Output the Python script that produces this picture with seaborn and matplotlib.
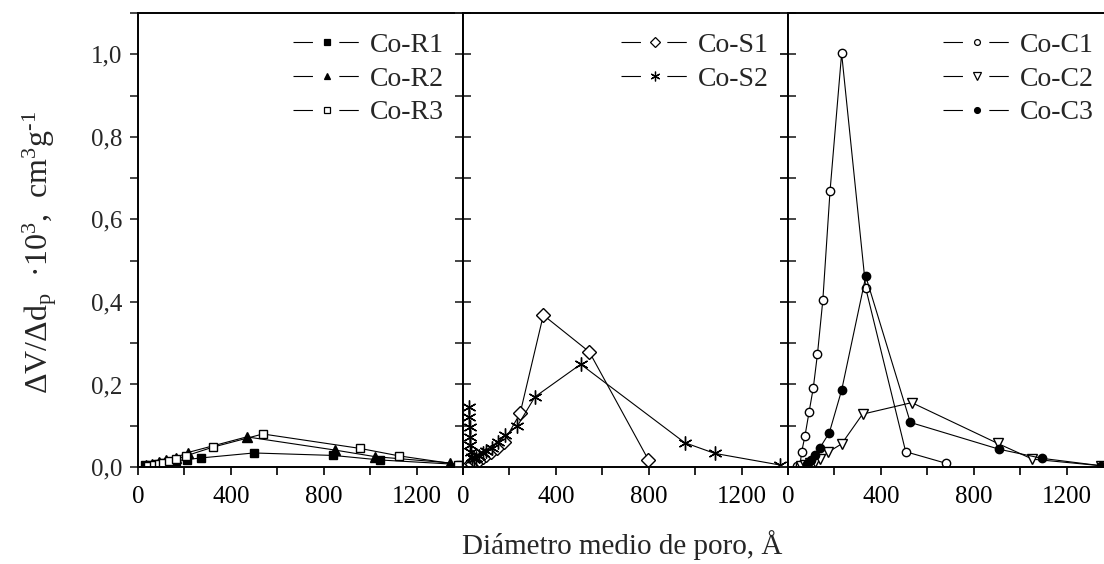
import matplotlib
matplotlib.use("Agg")
import matplotlib.pyplot as plt
from matplotlib.lines import Line2D
from matplotlib.ticker import MultipleLocator, FuncFormatter
import seaborn as sns

# Pore size distributions (x: mean pore diameter in Å, y: dV/dDp * 10^3 in cm3/g)
r1_x = [30, 55, 80, 105, 130, 165, 210, 272, 499, 842, 1043, 1385]
r1_y = [0.004, 0.006, 0.008, 0.010, 0.012, 0.015, 0.018, 0.022, 0.034, 0.028, 0.017, 0.006]
r2_x = [35, 60, 90, 120, 164, 214, 469, 849, 1022, 1342]
r2_y = [0.004, 0.007, 0.011, 0.016, 0.023, 0.035, 0.073, 0.041, 0.025, 0.010]
r3_x = [45, 70, 90, 107, 132, 164, 207, 322, 538, 957, 1124, 1380]
r3_y = [0.003, 0.005, 0.008, 0.010, 0.014, 0.019, 0.027, 0.048, 0.080, 0.045, 0.027, 0.006]

s1_x = [25, 40, 55, 70, 85, 100, 120, 145, 175, 246, 346, 544, 799]
s1_y = [0.004, 0.008, 0.012, 0.018, 0.024, 0.030, 0.037, 0.047, 0.060, 0.130, 0.368, 0.279, 0.017]
s2_x = [25, 27, 28, 30, 32, 35, 40, 48, 58, 70, 85, 100, 124, 150, 183, 234, 310, 507, 955, 1084, 1364]
s2_y = [0.146, 0.122, 0.097, 0.073, 0.053, 0.036, 0.025, 0.020, 0.022, 0.027, 0.033, 0.039, 0.047,
        0.060, 0.077, 0.099, 0.170, 0.249, 0.059, 0.033, 0.005]

c1_x = [40, 52, 59, 73, 91, 109, 127, 150, 181, 231, 335, 507, 681]
c1_y = [0.002, 0.006, 0.037, 0.075, 0.134, 0.192, 0.274, 0.404, 0.668, 1.002, 0.433, 0.037, 0.009]
c2_x = [55, 75, 95, 115, 138, 173, 231, 321, 533, 904, 1053, 1350]
c2_y = [0.002, 0.005, 0.009, 0.013, 0.019, 0.036, 0.056, 0.128, 0.156, 0.057, 0.019, 0.003]
c3_x = [80, 100, 116, 138, 178, 231, 335, 527, 910, 1094, 1350]
c3_y = [0.008, 0.018, 0.029, 0.047, 0.083, 0.186, 0.462, 0.108, 0.043, 0.021, 0.003]

labels_r = ["Co-R1", "Co-R2", "Co-R3"]
labels_s = ["Co-S1", "Co-S2"]
labels_c = ["Co-C1", "Co-C2", "Co-C3"]

x_label = "Diámetro medio de poro, Å"
y_label = (r"ΔV/Δd$_\mathregular{p}$  ·10$^\mathregular{3}$,  "
           r"cm$^\mathregular{3}$g$^\mathregular{‐1}$")

sns.set_style("ticks")
plt.rcParams["font.family"] = ["Liberation Serif", "DejaVu Serif"]
plt.rcParams["mathtext.fontset"] = "custom"
plt.rcParams["mathtext.rm"] = "Liberation Serif"
plt.rcParams["mathtext.it"] = "Liberation Serif:italic"
plt.rcParams["lines.scale_dashes"] = False

ASTERISK = (6, 2, 0)
series = [
    [(r1_x, r1_y, "s", "black", labels_r[0]),
     (r2_x, r2_y, "^", "black", labels_r[1]),
     (r3_x, r3_y, "s", "white", labels_r[2])],
    [(s1_x, s1_y, "D", "white", labels_s[0]),
     (s2_x, s2_y, ASTERISK, "black", labels_s[1])],
    [(c1_x, c1_y, "o", "white", labels_c[0]),
     (c2_x, c2_y, "v", "white", labels_c[1]),
     (c3_x, c3_y, "o", "black", labels_c[2])],
]
msize = {"s": 6, "^": 7, "D": 7, "o": 6, "v": 7.5, ASTERISK: 10}

W, H = 1104, 564
fig = plt.figure(figsize=(W / 100, H / 100), dpi=100)
left_px, panel_px, top_px, bottom_px = 138, 325, 13, 467

comma = FuncFormatter(lambda v, p: f"{v:.1f}".replace(".", ","))

for i, group in enumerate(series):
    ax = fig.add_axes([(left_px + i * panel_px) / W, 1 - bottom_px / H,
                       panel_px / W, (bottom_px - top_px) / H])
    handles = []
    for xs, ys, mk, face, lab in group:
        sns.lineplot(x=xs, y=ys, ax=ax, color="black", linewidth=0.8, sort=False,
                     estimator=None, legend=False, marker=mk, markersize=msize[mk],
                     markerfacecolor=face, markeredgecolor="black",
                     markeredgewidth=1.0)
        handles.append(Line2D([], [], color="black", linewidth=0.8, dashes=(14, 19),
                              marker=mk, markersize=msize[mk] * 0.7,
                              markerfacecolor=face, markeredgecolor="black",
                              markeredgewidth=0.9, label=lab))
    ax.set_xlim(0, 1400)
    ax.set_ylim(0, 1.1)
    ax.xaxis.set_major_locator(MultipleLocator(400))
    ax.xaxis.set_minor_locator(MultipleLocator(200))
    ax.yaxis.set_major_locator(MultipleLocator(0.2))
    ax.yaxis.set_minor_locator(MultipleLocator(0.1))
    ax.tick_params(axis="x", which="both", direction="out", length=6, width=1.2,
                   labelsize=18, pad=8, colors="black")
    if i == 0:
        ax.yaxis.set_major_formatter(comma)
        ax.tick_params(axis="y", which="both", direction="out", length=6, width=1.2,
                       labelsize=18, pad=5, left=True, right=False)
    else:
        ax.tick_params(axis="y", which="both", direction="inout", length=12, width=1.2,
                       left=True, right=True, labelleft=False)
    for sp in ax.spines.values():
        sp.set_visible(True)
        sp.set_linewidth(1.4)
        sp.set_color("black")
    ax.set_xlabel("")
    ax.set_ylabel("")
    ax.legend(handles=handles, loc="upper right", frameon=False, fontsize=20,
              handlelength=2.45, handletextpad=0.3, labelspacing=0.3,
              borderaxespad=0.3, numpoints=1)

fig.text(622 / W, 1 - 545 / H, x_label, ha="center", va="center", fontsize=21)
fig.text(40 / W, 1 - 252 / H, y_label, ha="center", va="center", rotation=90, fontsize=23)

fig.savefig("out.png", dpi=100)
